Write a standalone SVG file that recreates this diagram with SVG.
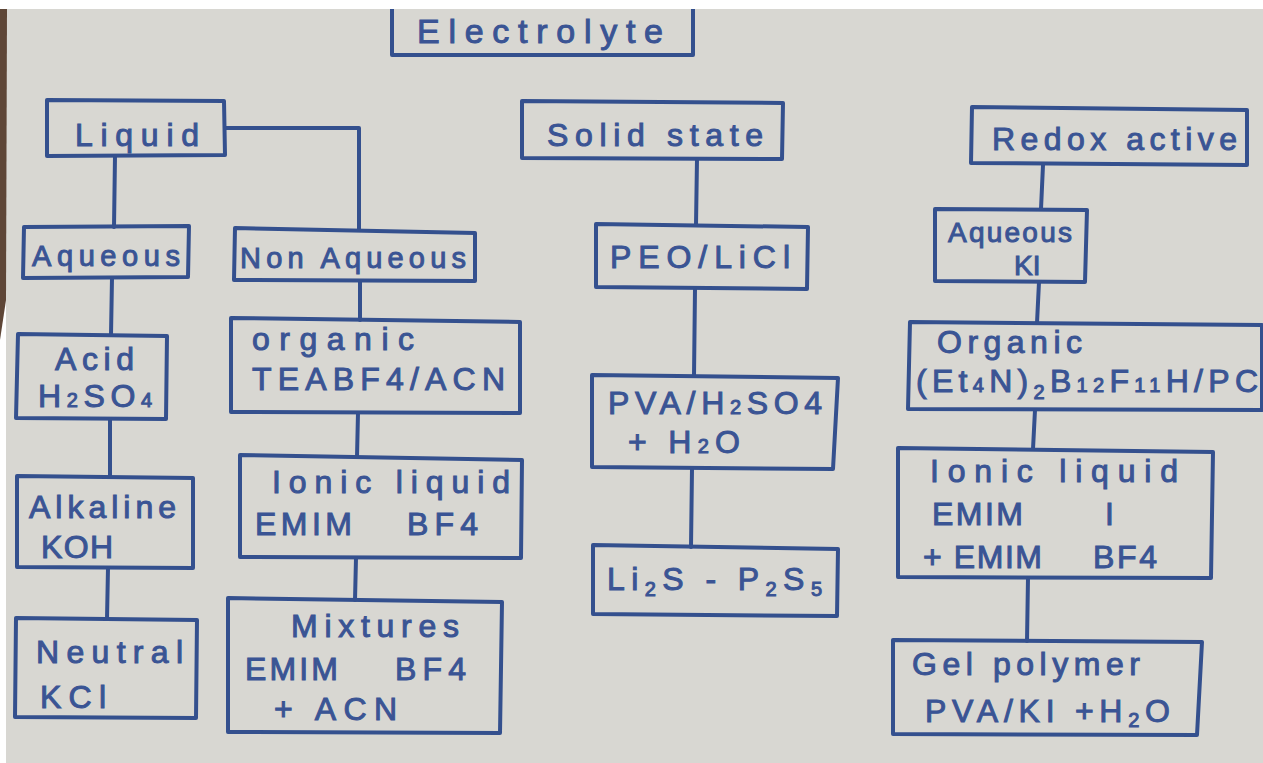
<svg xmlns="http://www.w3.org/2000/svg" width="1263" height="763" viewBox="0 0 1263 763">
<style>
.bx{fill:none;stroke:#34508e;stroke-width:4;stroke-linejoin:round}
.ln{fill:none;stroke:#34508e;stroke-width:4;stroke-linecap:round;stroke-linejoin:round}
.t{font-family:"Liberation Sans",Arial,sans-serif;font-size:32px;fill:#3a5494;stroke:#3a5494;stroke-width:1}
.s{font-size:20px}
</style>
<rect x="0" y="0" width="1263" height="763" fill="#ffffff"/>
<rect x="6" y="9" width="1257" height="754" fill="#d8d7d2"/>
<polygon points="0,9 7,9 6,300 0,340" fill="#5e4637"/>

<g id="electrolyte">
<path class="bx" d="M392,9 L392,55 L693,55 L693,9"/>
<text class="t" x="417" y="43" textLength="246" lengthAdjust="spacing" style="font-size:34px">Electrolyte</text>
</g>

<g id="connectors">
<path class="ln" d="M115,156 L114,227"/>
<path class="ln" d="M225,128 L359,128 L359,230"/>
<path class="ln" d="M112,278 L111,335"/>
<path class="ln" d="M110,419 L110,477"/>
<path class="ln" d="M108,568 L107,619"/>
<path class="ln" d="M360,281 L360,320"/>
<path class="ln" d="M358,413 L357,457"/>
<path class="ln" d="M356,558 L355,600"/>
<path class="ln" d="M697,159 L696,225"/>
<path class="ln" d="M695,289 L694,376"/>
<path class="ln" d="M692,469 L691,547"/>
<path class="ln" d="M1043,165 L1041,209"/>
<path class="ln" d="M1039,282 L1037,323"/>
<path class="ln" d="M1035,410 L1033,449"/>
<path class="ln" d="M1028,578 L1027,641"/>
</g>

<g id="liquid">
<polygon class="bx" points="47,100 224,101 225,155 47,156"/>
<text class="t" x="75" y="146" textLength="124" lengthAdjust="spacing">Liquid</text>
</g>
<g id="aqueous">
<polygon class="bx" points="24,227 189,226 188,277 23,278"/>
<text class="t" x="32" y="266" textLength="148" lengthAdjust="spacing" style="font-size:29px">Aqueous</text>
</g>
<g id="non-aqueous">
<polygon class="bx" points="235,228 475,233 475,281 234,280"/>
<text class="t" x="240" y="268" textLength="226" lengthAdjust="spacing" style="font-size:29px">Non Aqueous</text>
</g>
<g id="acid">
<polygon class="bx" points="18,334 167,336 166,419 16,418"/>
<text class="t" x="55" y="370" textLength="79" lengthAdjust="spacing">Acid</text>
<text class="t" x="38" y="407" textLength="114" lengthAdjust="spacing">H<tspan class="s">2</tspan>SO<tspan class="s">4</tspan></text>
</g>
<g id="alkaline">
<polygon class="bx" points="17,476 193,478 193,568 17,567"/>
<text class="t" x="29" y="518" textLength="147" lengthAdjust="spacing">Alkaline</text>
<text class="t" x="41" y="558" textLength="72" lengthAdjust="spacing">KOH</text>
</g>
<g id="neutral">
<polygon class="bx" points="16,618 197,620 196,718 15,717"/>
<text class="t" x="36" y="663" textLength="147" lengthAdjust="spacing">Neutral</text>
<text class="t" x="40" y="708" textLength="66" lengthAdjust="spacing">KCl</text>
</g>
<g id="organic">
<polygon class="bx" points="231,318 520,322 520,413 231,412"/>
<text class="t" x="252" y="350" textLength="162" lengthAdjust="spacing">organic</text>
<text class="t" x="252" y="390" textLength="253" lengthAdjust="spacing">TEABF4/ACN</text>
</g>
<g id="ionic-liquid">
<polygon class="bx" points="240,455 522,460 521,558 240,557"/>
<text class="t" x="272" y="493" textLength="238" lengthAdjust="spacing">Ionic liquid</text>
<text class="t" x="255" y="535" textLength="97" lengthAdjust="spacing">EMIM</text>
<text class="t" x="407" y="535" textLength="71" lengthAdjust="spacing">BF4</text>
</g>
<g id="mixtures">
<polygon class="bx" points="228,598 502,602 500,733 228,732"/>
<text class="t" x="291" y="637" textLength="168" lengthAdjust="spacing">Mixtures</text>
<text class="t" x="245" y="680" textLength="93" lengthAdjust="spacing">EMIM</text>
<text class="t" x="395" y="680" textLength="71" lengthAdjust="spacing">BF4</text>
<text class="t" x="274" y="720" textLength="123" lengthAdjust="spacing">+ ACN</text>
</g>

<g id="solid-state">
<polygon class="bx" points="522,101 783,103 782,159 522,158"/>
<text class="t" x="547" y="146" textLength="216" lengthAdjust="spacing">Solid state</text>
</g>
<g id="peo-licl">
<polygon class="bx" points="596,224 808,227 807,289 596,287"/>
<text class="t" x="610" y="268" textLength="180" lengthAdjust="spacing">PEO/LiCl</text>
</g>
<g id="pva-h2so4">
<polygon class="bx" points="592,375 838,378 833,469 592,467"/>
<text class="t" x="608" y="414" textLength="214" lengthAdjust="spacing">PVA/H<tspan class="s">2</tspan>SO4</text>
<text class="t" x="628" y="453" textLength="112" lengthAdjust="spacing">+ H<tspan class="s">2</tspan>O</text>
</g>
<g id="li2s-p2s5">
<polygon class="bx" points="593,545 838,549 837,616 593,614"/>
<text class="t" x="607" y="590" textLength="215" lengthAdjust="spacing">Li<tspan class="s" dy="6">2</tspan><tspan dy="-6">S - P</tspan><tspan class="s" dy="6">2</tspan><tspan dy="-6">S</tspan><tspan class="s" dy="6">5</tspan></text>
</g>

<g id="redox-active">
<polygon class="bx" points="972,107 1247,110 1247,165 971,163"/>
<text class="t" x="992" y="150" textLength="245" lengthAdjust="spacing">Redox active</text>
</g>
<g id="aqueous-ki">
<polygon class="bx" points="935,209 1087,210 1085,282 935,281"/>
<text class="t" x="948" y="242" textLength="124" lengthAdjust="spacing" style="font-size:28px">Aqueous</text>
<text class="t" x="1014" y="275" style="font-size:28px">KI</text>
</g>
<g id="organic-redox">
<polygon class="bx" points="910,322 1262,325 1262,410 908,409"/>
<text class="t" x="937" y="353" textLength="145" lengthAdjust="spacing">Organic</text>
<text class="t" x="916" y="392" textLength="342" lengthAdjust="spacing">(Et<tspan class="s">4</tspan>N)<tspan class="s" dy="7">2</tspan><tspan dy="-7">B</tspan><tspan class="s">12</tspan>F<tspan class="s">11</tspan>H/PC</text>
</g>
<g id="ionic-liquid-redox">
<polygon class="bx" points="898,448 1213,452 1211,578 898,577"/>
<text class="t" x="930" y="482" textLength="248" lengthAdjust="spacing">Ionic liquid</text>
<text class="t" x="932" y="525" textLength="91" lengthAdjust="spacing">EMIM</text>
<text class="t" x="1105" y="525">I</text>
<text class="t" x="923" y="568" textLength="119" lengthAdjust="spacing">+ EMIM</text>
<text class="t" x="1093" y="568" textLength="64" lengthAdjust="spacing">BF4</text>
</g>
<g id="gel-polymer">
<polygon class="bx" points="893,640 1202,642 1197,735 893,734"/>
<text class="t" x="912" y="675" textLength="228" lengthAdjust="spacing">Gel polymer</text>
<text class="t" x="925" y="722" textLength="245" lengthAdjust="spacing">PVA/KI  +H<tspan class="s" dy="5">2</tspan><tspan dy="-5">O</tspan></text>
</g>
</svg>
